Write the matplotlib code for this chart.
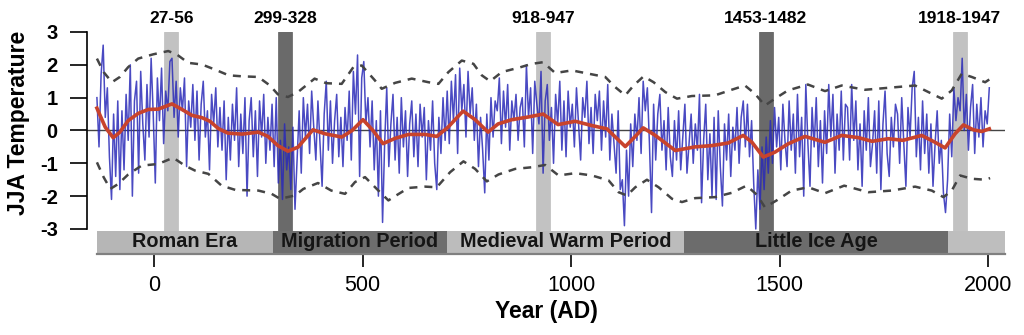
import numpy as np
import matplotlib.pyplot as plt

plt.rcParams['font.family'] = ['Liberation Sans', 'DejaVu Sans']
plt.rcParams['axes.unicode_minus'] = False

# annual JJA anomaly, sampled every 5 years from 137 BC
start_year = -137
step = 5
jja = [
    1.0, -0.5, 1.7, 2.6, 0.4, 1.3, -0.8, -2.1, 0.5, -1.4, 0.9, -1.8,
    0.6, -1.2, 1.1, -0.3, 2.0, -2.0, 0.9, 1.5, -1.3, 1.8, 0.2, -0.9,
    1.4, -0.2, 2.2, 0.5, -1.6, 1.6, 0.3, 1.9, -0.4, 1.2, 0.6, 2.1,
    2.2, 0.4, 1.5, -0.2, 1.3, 0.6, 1.6, -1.1, 0.9, 0.1, 1.4, -0.3,
    1.2, -0.9, 0.8, 1.5, -0.2, 0.6, -1.2, 1.1, 0.2, 1.3, -0.5, 0.7,
    -0.6, 0.9, -1.5, 0.4, -0.9, 0.8, -0.3, 1.3, -1.1, 0.5, -0.7, 1.0,
    -2.0, 0.3, 1.0, -0.8, 0.6, -1.4, 0.9, -0.2, 1.1, -1.0, 0.4, -0.6,
    0.8, -1.1, 1.0, -1.6, -0.3, -2.1, 0.2, -1.2, -0.5, -1.8, 0.1, -2.4,
    -0.9, 0.6, -1.3, 1.0, -0.2, 0.8, -0.7, 1.2, 0.1, -0.9, 0.9, -0.4,
    -1.7, 0.5, 1.5, -0.6, 0.9, -1.0, 0.3, 1.1, -0.8, 0.4, -1.1, 0.7,
    -0.3, 1.2, -0.9, 1.8, 0.5, 2.3, -1.4, 1.6, 2.1, 0.2, 1.0, -0.5,
    0.9, -1.2, 0.3, -2.0, 0.6, -2.8, -0.4, 1.3, -1.1, 0.2, 1.1, -0.9,
    0.4, -1.3, 1.0, -0.5, 0.6, -1.4, 0.2, 0.9, -0.8, 0.5, -1.1, 0.8,
    -0.2, 0.7, -1.5, 0.3, -0.6, 0.9, -1.0, -1.8, 0.4, -0.7, 1.0, -0.3,
    1.2, -0.4, 1.5, 0.3, 1.7, -0.7, 1.9, 0.6, 1.4, -0.2, 1.8, 0.5,
    1.3, -0.3, 0.8, -1.1, 0.4, -0.6, -1.9, 0.5, -0.9, 1.0, -0.2, 0.9,
    0.6, 1.6, -0.4, 1.2, 0.1, 1.4, -0.6, 0.9, 0.3, 1.1, -0.3, 0.7,
    1.0, -0.5, 2.0, 0.4, 1.3, -0.7, 1.5, 0.8, 0.2, 1.8, -1.3, 0.9,
    1.4, -0.3, 0.7, -1.0, 1.1, 0.2, 1.5, -0.6, 0.9, -0.8, 1.2, 0.1,
    0.8, -0.5, 1.3, 0.2, -0.9, 1.0, 0.4, 1.5, -0.4, 0.7, -0.7, 1.1,
    0.3, 1.2, -0.6, 0.9, -0.2, 1.4, -0.9, 0.5, -0.4, -1.3, 0.6, -1.8,
    -1.5, -2.9, -0.6, -2.0, 0.2, -1.1, 0.5, -0.3, 1.0, -0.7, 1.5, 0.6,
    1.3, -0.4, -2.5, 0.8, -0.9, 0.5, 1.1, -0.6, 0.3, -1.2, 0.7, -0.8,
    -1.4, 0.3, -0.9, 0.6, -1.2, -0.2, 0.8, -1.3, -0.4, 0.5, -1.0, 0.2,
    -0.6, 1.1, -2.2, -0.3, 0.8, -1.5, -0.1, -2.0, 0.4, -2.1, 0.6, -1.1,
    -2.3, 0.2, -0.9, 0.5, -1.4, 0.1, -0.6, 0.7, -1.0, 0.4, 0.9, -0.5,
    0.8, -0.8, 0.3, -1.6, -3.0, -1.2, -2.4, -0.5, -1.8, -0.2, -1.3, 0.3,
    -1.0, 0.7, -0.5, 0.4, -1.2, 0.8, -0.3, -1.1, 0.9, -0.6, 0.5, -1.3,
    1.1, -0.8, 0.4, -2.0, 1.4, -0.4, -1.7, 0.7, -0.5, 1.0, -1.1, 0.3,
    -1.6, 0.6, -0.7, 1.4, -0.2, 1.1, -1.3, 0.5, -0.6, 1.2, -0.9, 0.8,
    0.7, -0.9, 1.4, -0.3, 0.9, -1.2, 0.2, -1.7, 0.6, -0.6, 1.0, -1.1,
    -0.4, 0.6, -1.3, 0.9, -1.8, 0.2, 1.2, -0.7, -1.4, 0.4, -0.5, 0.8,
    0.5, -1.0, 1.0, -0.4, -1.7, 0.7, -0.2, 1.3, 1.8, -0.8, 0.4, -1.2,
    0.9, -0.7, 0.5, -1.3, 0.2, -1.7, -0.4, 0.6, -1.0, -0.3, -1.9, -2.5,
    -1.5, 0.5, -0.8, 1.3, 0.3, 1.0, 0.6, 2.2, 0.0, 1.1, -0.6, 0.7,
    1.4, -0.7, 0.8, -0.2, 1.0, -0.5, 0.6, 0.2, 1.3,
]
years = start_year + step * np.arange(len(jja))

# 60-year smoothing
smooth_years = [-137, -117, -98, -82, -62, -38, -14, 10, 43, 67, 91, 115, 134, 154, 177, 211,
                250, 273, 297, 321, 345, 381, 410, 450, 475, 501, 525, 549, 578, 610, 650, 678,
                705, 741, 770, 801, 825, 858, 897, 933, 969, 1010, 1050, 1086, 1130, 1154, 1173,
                1202, 1250, 1297, 1338, 1377, 1413, 1434, 1461, 1489, 1520, 1561, 1609, 1649,
                1690, 1722, 1761, 1796, 1841, 1873, 1897, 1921, 1941, 1965, 1985, 2003]
smooth = [0.68, 0.1, -0.22, -0.05, 0.3, 0.52, 0.64, 0.65, 0.81, 0.64, 0.46, 0.39, 0.28, 0.06,
          -0.08, -0.11, -0.05, -0.18, -0.46, -0.63, -0.51, 0.02, -0.1, -0.2, 0.0, 0.33, 0.0,
          -0.4, -0.24, -0.12, -0.12, -0.18, 0.1, 0.59, 0.33, -0.05, 0.2, 0.33, 0.41, 0.5, 0.18,
          0.28, 0.15, 0.05, -0.49, -0.18, 0.08, -0.15, -0.61, -0.5, -0.46, -0.38, -0.15, -0.36,
          -0.81, -0.66, -0.41, -0.18, -0.36, -0.15, -0.22, -0.33, -0.25, -0.3, -0.15, -0.36,
          -0.53, -0.1, 0.17, 0.02, -0.03, 0.05]

# uncertainty envelope
upper_years = [-137, -121, -101, -82, -62, -38, -2, 34, 54, 82, 115, 147, 179, 211, 250, 278,
               297, 321, 345, 385, 413, 450, 478, 498, 530, 546, 578, 618, 658, 682, 706, 738,
               766, 786, 806, 834, 874, 906, 933, 962, 1002, 1042, 1082, 1106, 1130, 1150, 1174,
               1198, 1226, 1254, 1290, 1345, 1385, 1417, 1441, 1465, 1489, 1520, 1568, 1609,
               1649, 1705, 1761, 1825, 1857, 1889, 1913, 1937, 1961, 1993, 2005]
upper = [2.19, 1.78, 1.47, 1.63, 1.93, 2.19, 2.32, 2.42, 2.32, 2.06, 2.01, 1.85, 1.68, 1.65,
         1.63, 1.37, 1.1, 1.02, 1.17, 1.58, 1.44, 1.42, 1.93, 1.98, 1.52, 1.27, 1.45, 1.58, 1.47,
         1.42, 1.78, 2.13, 2.03, 1.68, 1.5, 1.78, 1.91, 2.03, 2.08, 1.75, 1.83, 1.73, 1.63, 1.32,
         1.07, 1.37, 1.65, 1.47, 1.17, 0.97, 1.05, 1.07, 1.24, 1.37, 1.12, 0.76, 0.97, 1.22, 1.4,
         1.2, 1.37, 1.24, 1.3, 1.37, 1.17, 0.97, 1.22, 1.73, 1.63, 1.47, 1.57]
lower_years = [-137, -121, -105, -86, -62, -30, 10, 46, 74, 98, 130, 162, 195, 250, 282, 302,
               338, 358, 393, 425, 458, 482, 506, 538, 562, 578, 610, 650, 678, 710, 742, 770,
               798, 826, 866, 906, 938, 970, 1010, 1050, 1090, 1114, 1134, 1154, 1182, 1210,
               1242, 1266, 1298, 1345, 1385, 1421, 1445, 1465, 1493, 1529, 1569, 1609, 1655,
               1713, 1769, 1825, 1865, 1893, 1913, 1933, 1961, 1993, 2005]
lower = [-0.97, -1.42, -1.78, -1.63, -1.34, -1.07, -1.02, -0.83, -1.07, -1.22, -1.32, -1.68,
         -1.81, -1.83, -1.93, -2.08, -1.98, -1.78, -1.6, -1.83, -1.93, -1.57, -1.42, -1.83,
         -2.13, -2.0, -1.75, -1.71, -1.73, -1.27, -0.94, -1.17, -1.55, -1.34, -1.17, -1.12,
         -1.05, -1.37, -1.3, -1.37, -1.52, -1.88, -1.98, -1.73, -1.5, -1.73, -2.08, -2.18,
         -2.06, -2.03, -1.9, -1.68, -1.95, -2.34, -2.13, -1.83, -1.73, -1.91, -1.68, -1.88,
         -1.83, -1.71, -1.83, -2.03, -1.83, -1.37, -1.47, -1.5, -1.45]

# highlighted 30-year windows
window_starts = [27, 299, 918, 1453, 1918]
window_ends = [56, 328, 947, 1482, 1947]
window_colors = ['#c2c2c2', '#6a6a6a', '#c2c2c2', '#6a6a6a', '#c2c2c2']

# historical periods along the bottom
period_names = ['Roman Era', 'Migration Period', 'Medieval Warm Period', 'Little Ice Age', '']
period_starts = [-137, 285, 703, 1271, 1904]
period_ends = [285, 703, 1271, 1904, 2041]
period_colors = ['#b6b6b6', '#6e6e6e', '#bcbcbc', '#6c6c6c', '#bebebe']

fig = plt.figure(figsize=(10.24, 3.35), dpi=100)
ax = fig.add_axes([0.085, 0.2418, 0.8965, 0.6627])

bar_lo, bar_hi = -3.73, -3.06

for s, e, c in zip(window_starts, window_ends, window_colors):
    ax.fill_between([s, e], bar_hi, 3, color=c, lw=2, edgecolor=c, zorder=0)
    ax.text((s + e) / 2, 1.063, f'{s}-{e}', transform=ax.get_xaxis_transform(),
            ha='center', va='center', fontsize=12.5, fontweight='bold')

for name, s, e, c in zip(period_names, period_starts, period_ends, period_colors):
    ax.fill_between([s, e], bar_lo, bar_hi, color=c, lw=0, zorder=1)
    if name:
        ax.text((s + e) / 2, (bar_lo + bar_hi) / 2, name, ha='center', va='center',
                fontsize=14.3, fontweight='bold', color='#151515', zorder=2)

ax.axhline(0, color='#444444', lw=1.0, zorder=2)
ax.plot(years, jja, color='#2a2ab8', lw=1.1, alpha=0.85, zorder=3)
ax.plot(upper_years, upper, color='#454545', lw=1.8, dashes=(3.2, 2.8), zorder=4)
ax.plot(lower_years, lower, color='#454545', lw=1.8, dashes=(3.2, 2.8), zorder=4)
ax.plot(smooth_years, smooth, color='#c8432c', lw=2.6, solid_joinstyle='round', zorder=5)

ax.set_xlim(-160.7, 2040.8)
ax.set_ylim(-3.762, 3)
ax.set_xticks([0, 500, 1000, 1500, 2000])
ax.set_yticks([-3, -2, -1, 0, 1, 2, 3])

ax.spines['top'].set_visible(False)
ax.spines['right'].set_visible(False)
ax.spines['left'].set_bounds(-3, 3)
ax.spines['left'].set_linewidth(1.2)
ax.spines['bottom'].set_bounds(-137, 2041)
ax.spines['bottom'].set_color('#808080')
ax.spines['bottom'].set_linewidth(1.6)

ax.tick_params(axis='y', length=12, width=1.2, pad=9, labelsize=14.5)
ax.tick_params(axis='x', length=9, width=1.2, pad=6, labelsize=15.5)
for lab in ax.get_yticklabels():
    lab.set_fontweight('bold')

ax.set_ylabel('JJA Temperature', fontsize=16.5, fontweight='bold')
ax.yaxis.set_label_coords(-0.062, 0.59)
ax.set_xlabel('Year (AD)', fontsize=16.5, fontweight='bold')
ax.xaxis.set_label_coords(0.5, -0.205)

fig.savefig('out.png', dpi=100)
